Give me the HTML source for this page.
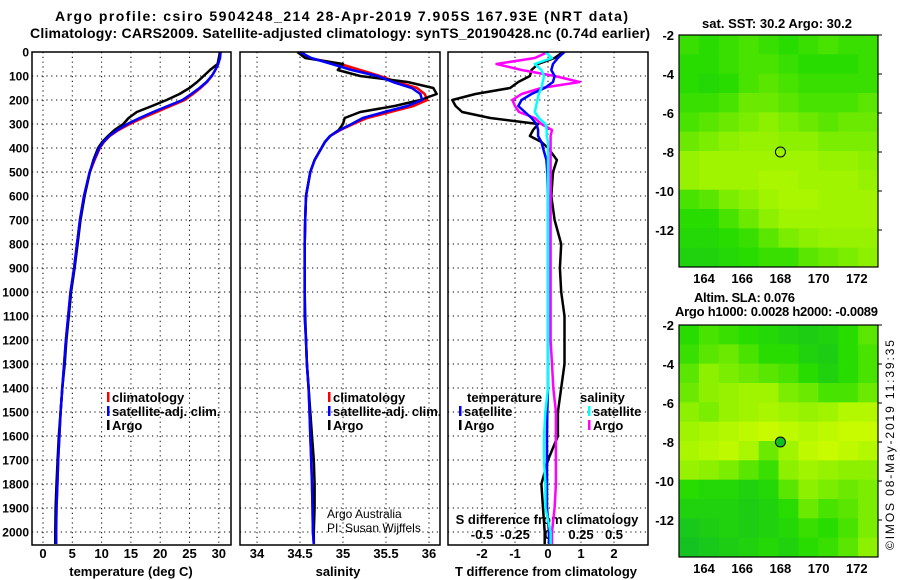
<!DOCTYPE html>
<html><head><meta charset="utf-8"><style>
body{margin:0;background:#fff}
svg{display:block;font-family:"Liberation Sans",sans-serif;font-weight:bold}
</style></head><body>
<svg id="c" width="900" height="580" viewBox="0 0 900 580" xmlns="http://www.w3.org/2000/svg">
<text x="55" y="21" font-size="14" textLength="573" lengthAdjust="spacing">Argo profile: csiro 5904248_214 28-Apr-2019 7.905S 167.93E (NRT data)</text>
<text x="30" y="38" font-size="14" textLength="620" lengthAdjust="spacing">Climatology: CARS2009. Satellite-adjusted climatology: synTS_20190428.nc (0.74d earlier)</text>
<g id="g"></g>
<text x="702" y="28" font-size="13" textLength="150" lengthAdjust="spacing">sat. SST: 30.2 Argo: 30.2</text>
<text x="694" y="302" font-size="13" textLength="101" lengthAdjust="spacing">Altim. SLA: 0.076</text>
<text x="675" y="316" font-size="13" textLength="203" lengthAdjust="spacing">Argo h1000: 0.0028 h2000: -0.0089</text>
<text transform="translate(894,550) rotate(-90)" font-size="12" font-weight="normal" textLength="210" lengthAdjust="spacing">©IMOS 08-May-2019 11:39:35</text>
</svg>
<script>
const NS="http://www.w3.org/2000/svg";
const depths=[0,25,50,75,100,125,150,175,200,225,250,275,300,325,350,375,400,450,500,600,700,800,900,1000,1100,1200,1300,1400,1500,1600,1700,1800,1900,2000,2050];
const tClim=[30.2,30.1,29.9,29.4,28.8,28.0,26.9,25.6,24.2,21.8,19.4,17.0,14.8,12.9,11.4,10.4,9.7,8.8,8.0,7.0,6.3,5.8,5.3,4.7,4.3,3.9,3.6,3.3,3.0,2.8,2.6,2.45,2.3,2.2,2.2];
const tSat=[30.3,30.2,29.9,29.4,28.8,27.9,26.7,25.3,23.8,21.3,18.8,16.5,14.4,12.7,11.3,10.3,9.6,8.7,7.95,7.0,6.3,5.8,5.3,4.7,4.3,3.9,3.6,3.3,3.0,2.8,2.6,2.45,2.3,2.25,2.25];
const tArgo=[30.2,30.0,29.8,28.5,27.4,26.3,25.0,23.3,21.1,18.6,16.0,14.6,13.7,12.2,11.1,10.1,9.4,8.6,8.0,7.1,6.4,5.9,5.4,4.8,4.4,4.0,3.7,3.3,3.0,2.7,2.5,2.3,2.15,2.1,2.1];
const sClim=[34.52,34.6,34.97,35.2,35.43,35.63,35.86,35.95,35.98,35.82,35.55,35.28,35.12,34.97,34.85,34.79,34.75,34.67,34.62,34.57,34.56,34.555,34.555,34.555,34.555,34.57,34.58,34.6,34.61,34.62,34.63,34.64,34.645,34.65,34.66];
const sSat=[34.5,34.63,34.87,35.1,35.4,35.58,35.8,35.9,35.92,35.75,35.48,35.23,35.1,34.96,34.85,34.79,34.75,34.67,34.62,34.57,34.56,34.555,34.555,34.555,34.555,34.57,34.58,34.6,34.61,34.62,34.63,34.64,34.645,34.65,34.66];
const sArgo=[34.47,34.56,35.0,34.94,35.2,35.75,36.05,36.09,35.9,35.6,35.2,35.02,35.0,34.95,34.85,34.79,34.75,34.67,34.62,34.57,34.56,34.555,34.555,34.555,34.56,34.57,34.58,34.6,34.62,34.64,34.66,34.67,34.67,34.66,34.66];
const dTArgo=[0.45,0.2,-0.3,-0.5,-0.55,-0.9,-1.15,-2.2,-2.9,-2.8,-2.6,-1.75,-0.3,-0.45,-0.55,-0.2,0,0.27,0.15,0.1,0.2,0.4,0.36,0.4,0.5,0.5,0.5,0.4,0.3,0.3,0.0,-0.2,-0.15,-0.1,-0.1];
const dTSat=[0.5,0.3,0.15,0.1,0.2,0.15,-0.1,-0.5,-0.8,-0.9,-0.7,-0.5,-0.35,-0.3,-0.3,-0.2,-0.15,-0.05,-0.02,0,0,0,0,0,0,0,0,0,-0.02,-0.03,-0.03,-0.03,-0.03,0.03,0.03];
const dSArgo=[0.0,-0.1,-0.39,-0.2,0.05,0.24,-0.05,-0.2,-0.27,-0.25,-0.22,-0.1,-0.05,0.03,0.02,0.02,0.02,0.02,0.02,0.02,0.02,0.02,0.02,0.02,0.02,0.02,0.03,0.04,0.06,0.06,0.06,0.06,0.05,0.03,0.03];
const dSSat=[-0.02,0.03,-0.1,-0.05,-0.03,-0.04,-0.05,-0.07,-0.08,-0.09,-0.1,-0.07,-0.02,-0.01,-0.01,0,0,0,0,0,0,0,0,0,0,0,0,0,-0.02,-0.03,-0.03,-0.02,-0.02,0.02,0.02];
const depthTicks=[0,100,200,300,400,500,600,700,800,900,1000,1100,1200,1300,1400,1500,1600,1700,1800,1900,2000];
const tTicks=[0,5,10,15,20,25,30];
const sTicks=[34,34.5,35,35.5,36];
const sTickLabels=["34","34.5","35","35.5","36"];
const dtTicks=[-2,-1,0,1,2];
const dsTicks=[-0.5,-0.25,0,0.25,0.5];
const dsTickLabels=["-0.5","-0.25","0","0.25","0.5"];
const latTicks=[-2,-4,-6,-8,-10,-12];
const lonTicks=[164,166,168,170,172];
const sstGrid=[
[0.35,0.3,0.35,0.4,0.35,0.3,0.35,0.4,0.35,0.35],
[0.3,0.3,0.35,0.4,0.4,0.35,0.3,0.3,0.3,0.35],
[0.3,0.25,0.3,0.4,0.45,0.4,0.35,0.35,0.35,0.35],
[0.35,0.35,0.4,0.5,0.5,0.45,0.4,0.4,0.4,0.45],
[0.4,0.45,0.5,0.55,0.6,0.55,0.5,0.45,0.5,0.5],
[0.5,0.55,0.6,0.65,0.65,0.6,0.6,0.55,0.55,0.55],
[0.65,0.7,0.7,0.7,0.7,0.7,0.7,0.65,0.65,0.6],
[0.65,0.7,0.7,0.7,0.75,0.75,0.7,0.7,0.7,0.65],
[0.4,0.45,0.55,0.6,0.7,0.75,0.75,0.7,0.7,0.7],
[0.3,0.3,0.4,0.5,0.6,0.7,0.7,0.7,0.7,0.7],
[0.25,0.25,0.3,0.35,0.45,0.55,0.6,0.65,0.65,0.65],
[0.2,0.2,0.25,0.3,0.35,0.35,0.45,0.5,0.55,0.6]];
const slaGrid=[
[0.3,0.4,0.35,0.3,0.25,0.2,0.15,0.2,0.3,0.45],
[0.35,0.45,0.5,0.4,0.3,0.3,0.2,0.15,0.3,0.4],
[0.45,0.6,0.55,0.5,0.45,0.4,0.3,0.2,0.3,0.4],
[0.5,0.6,0.65,0.7,0.7,0.55,0.5,0.4,0.4,0.5],
[0.6,0.55,0.65,0.7,0.75,0.7,0.65,0.7,0.8,0.8],
[0.7,0.75,0.8,0.85,0.9,0.85,0.8,0.85,0.9,0.9],
[0.75,0.8,0.85,0.75,0.5,0.7,0.85,0.9,0.85,0.8],
[0.65,0.6,0.55,0.45,0.35,0.6,0.7,0.65,0.6,0.6],
[0.3,0.25,0.25,0.2,0.25,0.45,0.6,0.55,0.5,0.55],
[0.2,0.2,0.2,0.15,0.2,0.3,0.5,0.4,0.45,0.55],
[0.1,0.15,0.2,0.15,0.2,0.25,0.35,0.3,0.4,0.55],
[0.05,0.1,0.15,0.2,0.25,0.2,0.3,0.35,0.45,0.6]];

const G=document.getElementById('g');
function el(t,a,p){const e=document.createElementNS(NS,t);for(const k in a)e.setAttribute(k,a[k]);(p||G).appendChild(e);return e;}
function txt(x,y,s,a,size,name){const e=el('text',{x:x,y:y,'font-size':size||12,'text-anchor':a||'middle'});e.textContent=s;


return e;}
const Y=d=>52+d*0.24;
const PT=v=>43+5.86*v, PS=v=>257+86*(v-34), PDT=v=>548+33*v, PDS=v=>548+132*v;
const panels=[[32,231],[240,440],[448,648]];
panels.forEach((p,i)=>{
  depthTicks.forEach(d=>{if(d>0){const l=el('line',{x1:p[0],x2:p[1],y1:Y(d),y2:Y(d),stroke:'#000','stroke-dasharray':'1.2,3.6','stroke-width':1});
  
  }});
});
function vgrid(ticks,f){ticks.forEach(t=>{const l=el('line',{x1:f(t),x2:f(t),y1:52,y2:545,stroke:'#000','stroke-dasharray':'1.2,3.6','stroke-width':1});

});}
vgrid(tTicks,PT);vgrid(sTicks,PS);vgrid(dtTicks,PDT);
depthTicks.forEach(d=>{txt(29,Y(d)+4.5,String(d),'end',12,'depth-tick-label');});
tTicks.forEach(t=>{txt(PT(t),558,String(t),'middle',13,'temperature-tick-label');});
sTicks.forEach((t,i)=>{txt(PS(t),558,sTickLabels[i],'middle',13,'salinity-tick-label');});
dtTicks.forEach(t=>{txt(PDT(t),558,String(t),'middle',13,'t-diff-tick-label');});
dsTicks.forEach((t,i)=>{txt(PDS(t),539,dsTickLabels[i],'middle',13,'s-diff-tick-label');});
txt(131,576,'temperature (deg C)','middle',13,'temperature-axis-title');
txt(338,576,'salinity','middle',13,'salinity-axis-title');
txt(546,576,'T difference from climatology','middle',13,'t-diff-axis-title');
txt(547,524,'S difference from climatology','middle',13,'s-diff-axis-title');
function line(vals,f,col,name,w){const pts=vals.map((v,i)=>f(v).toFixed(1)+','+Y(depths[i]).toFixed(1)).join(' ');
const l=el('polyline',{points:pts,fill:'none',stroke:col,'stroke-width':w||2.5,'stroke-linejoin':'round'});

}
line(tClim,PT,'#ff0000','temperature-climatology-line');
line(tArgo,PT,'#000','temperature-argo-line');
line(tSat,PT,'#0000ff','temperature-satellite-line');
line(sClim,PS,'#ff0000','salinity-climatology-line');
line(sArgo,PS,'#000','salinity-argo-line');
line(sSat,PS,'#0000ff','salinity-satellite-line');
line(dTArgo,PDT,'#000','t-diff-argo-line');
line(dSArgo,PDS,'#ff00ff','s-diff-argo-line');
line(dTSat,PDT,'#0000ff','t-diff-satellite-line');
line(dSSat,PDS,'#00ffff','s-diff-satellite-line');
panels.forEach(p=>{const r=el('rect',{x:p[0],y:52,width:p[1]-p[0],height:493,fill:'none',stroke:'#000','stroke-width':1.5});

});
function leg(x,y,col,label,name){const m=el('rect',{x:x,y:y-10,width:2.5,height:10,fill:col});


txt(x+5,y,label,'start',13,name);}
[[107,'T'],[328,'S']].forEach(a=>{const x=a[0];
leg(x,402,'#ff0000','climatology','legend-climatology');
leg(x,416,'#0000ff','satellite-adj. clim.','legend-satellite-adj');
leg(x,430,'#000','Argo','legend-argo');});
txt(467,402,'temperature','start',13,'legend-temperature-header');
txt(580,402,'salinity','start',13,'legend-salinity-header');
leg(459,416,'#0000ff','satellite','legend-t-satellite');
leg(459,430,'#000','Argo','legend-t-argo');
leg(588,416,'#00ffff','satellite','legend-s-satellite');
leg(588,430,'#ff00ff','Argo','legend-s-argo');
const a1=txt(327,518,'Argo Australia','start',12,'credit-argo-australia');a1.setAttribute('font-weight','normal');
const a2=txt(327,532,'PI: Susan Wijffels','start',12,'credit-pi');a2.setAttribute('font-weight','normal');
function col(v){const stops=[[0,[16,190,40]],[0.3,[40,220,0]],[0.6,[140,240,0]],[1,[220,255,0]]];
for(let i=1;i<stops.length;i++){if(v<=stops[i][0]){const a=stops[i-1],b=stops[i],t=(v-a[0])/(b[0]-a[0]);
return 'rgb('+a[1].map((c,k)=>Math.round(c+(b[1][k]-c)*t)).join(',')+')';}}return 'rgb(220,255,0)';}
function map(grid,y0,name,filled){const x0=679,x1=878,y1=y0+232;
const LX=v=>704+(v-164)*19.1, LY=v=>y0+(-2-v)*19.5;
const rows=grid.length,cols=grid[0].length,cw=(x1-x0)/cols,ch=(y1-y0)/rows;
grid.forEach((r,i)=>r.forEach((v,j)=>{const c=el('rect',{x:x0+j*cw,y:y0+i*ch,width:cw+0.5,height:ch+0.5,fill:col(v)});

}));
const f=el('rect',{x:x0,y:y0,width:x1-x0,height:y1-y0,fill:'none',stroke:'#000','stroke-width':1.2});


latTicks.forEach(t=>{txt(674,LY(t)+5,String(t),'end',13,name+'-lat-label');
const k=el('line',{x1:x1,x2:x1+4,y1:LY(t),y2:LY(t),stroke:'#000'});});
lonTicks.forEach(t=>{txt(LX(t),y1+16,String(t),'middle',13,name+'-lon-label');});
const c=el('circle',{cx:LX(168),cy:LY(-8),r:5,fill:filled?'#10c020':'none',stroke:'#000','stroke-width':1});

}
map(sstGrid,35,'sst-map',false);
map(slaGrid,325,'sla-map',true);
</script>
</body></html>
